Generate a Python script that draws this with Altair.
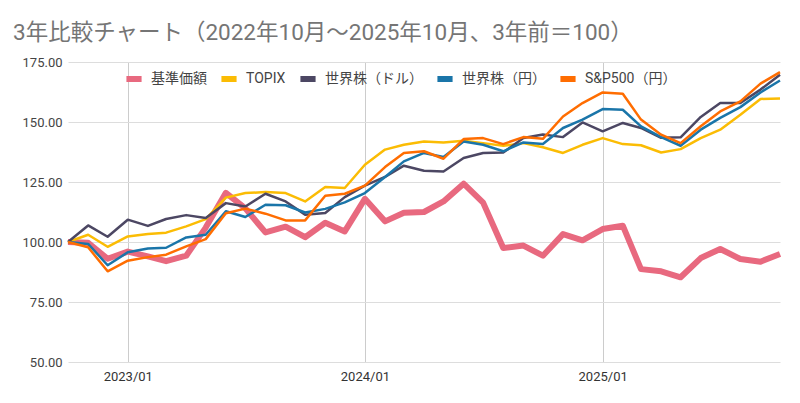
import altair as alt
import pandas as pd

months = pd.date_range("2022-10-01", "2025-10-01", freq="MS").strftime("%Y-%m-%d").tolist()

series_names = ["基準価額", "TOPIX", "世界株（ドル）", "世界株（円）", "S&P500（円）"]
series_colors = ["#E8697F", "#FBBC04", "#4C4763", "#1A75A9", "#FF6D01"]

kijun = [100, 99.7, 93, 96, 94, 92, 94.3, 106, 120.5, 114, 104, 106.4, 102,
         108, 104.4, 118, 108.6, 112.2, 112.5, 116.9, 124.3, 116.4, 97.5, 98.5,
         94.3, 103.3, 100.7, 105.4, 106.8, 88.7, 87.8, 85.3, 93.3, 97.1, 92.9,
         91.8, 95]
topix = [100, 103, 98, 102.3, 103.3, 103.9, 106.5, 109.5, 118.5, 120.4, 120.8,
         120.4, 116.9, 122.9, 122.5, 132.2, 138.5, 140.5, 141.9, 141.5, 142.2,
         141.2, 140.1, 141.2, 139.5, 137.1, 140.5, 143.3, 140.8, 140.3, 137.3,
         138.7, 143.3, 146.8, 153, 159.6, 159.8]
world_usd = [100, 106.9, 102.2, 109.3, 106.7, 109.6, 111.2, 110, 116.2, 114.8,
             120.1, 116.9, 111.4, 112.1, 118.7, 123.5, 127.1, 131.8, 129.7,
             129.4, 135, 137.1, 137.3, 143.3, 144.8, 143.7, 149.8, 146.1, 149.6,
             147.5, 143.4, 143.6, 152.1, 157.9, 157.9, 163.5, 169.7]
world_jpy = [100, 99.2, 90.3, 95.7, 97.3, 97.6, 101.9, 103, 112.8, 110.4, 115.5,
             115.3, 112.3, 113.8, 116.5, 120.4, 127.1, 133.6, 137.1, 135.4, 141.9,
             140.5, 137.8, 141.5, 140.8, 147.5, 151, 155.4, 155.1, 148.2, 143.7,
             140.1, 146.8, 151.7, 156.2, 162.3, 167.3]
sp500_jpy = [100, 97.8, 87.8, 92.2, 93.7, 94.7, 98.2, 101.2, 112, 113.9, 111.8,
             109, 109, 119.3, 120.1, 123.5, 131.2, 137.1, 137.8, 134.7, 142.9,
             143.3, 140.8, 143.7, 143, 152.3, 157.9, 162.3, 161.8, 151, 144.7,
             141.2, 148.2, 154.4, 158.6, 166, 170.8]

y_ticks = [50, 75, 100, 125, 150, 175]
x_tick_years = [2023, 2024, 2025]

all_values = [kijun, topix, world_usd, world_jpy, sp500_jpy]
rows = []
for name, vals in zip(series_names, all_values):
    for i, (m, v) in enumerate(zip(months, vals)):
        rows.append({"date": m, "series": name, "value": v, "order": series_names.index(name)})
df = pd.DataFrame(rows)

FONT = "Roboto, Arial, 'Liberation Sans', 'Noto Sans CJK JP', sans-serif"

color = alt.Color(
    "series:N",
    scale=alt.Scale(domain=series_names, range=series_colors),
    sort=series_names,
    legend=alt.Legend(
        title=None,
        orient="none",
        legendX=55,
        legendY=6,
        direction="horizontal",
        symbolType="stroke",
        symbolStrokeWidth=6,
        symbolSize=230,
        labelFontSize=14,
        labelFont=FONT,
        labelColor="#444444",
        labelOffset=6,
        columnPadding=2,
        padding=0,
    ),
)

x = alt.X(
    "date:T",
    scale=alt.Scale(type="utc", domain=[alt.DateTime(year=2022, month=10, date=1, utc=True),
                                         alt.DateTime(year=2025, month=10, date=1, utc=True)]),
    axis=alt.Axis(
        title=None,
        values=[alt.DateTime(year=yr, month=1, date=1, utc=True) for yr in x_tick_years],
        format="%Y/%m",
        grid=True,
        gridColor="#CCCCCC",
        gridWidth=1,
        domain=False,
        ticks=False,
        labelFontSize=13,
        labelColor="#333333",
        labelPadding=8,
        labelFont=FONT,
    ),
)
y = alt.Y(
    "value:Q",
    scale=alt.Scale(domain=[50, 175], nice=False, zero=False),
    axis=alt.Axis(
        title=None,
        values=y_ticks,
        format=".2f",
        grid=True,
        gridColor="#DDDDDD",
        gridWidth=1,
        domain=False,
        ticks=False,
        labelFontSize=13,
        labelColor="#444444",
        labelPadding=6,
        labelFont=FONT,
    ),
)

base = alt.Chart(df)
pink = base.transform_filter(alt.datum.series == "基準価額").mark_line(
    strokeWidth=6, strokeJoin="round"
).encode(x=x, y=y, color=color)
others = base.transform_filter(alt.datum.series != "基準価額").mark_line(
    strokeWidth=2.5, strokeJoin="round"
).encode(x=x, y=y, color=color, order=alt.Order("order:Q"))

chart = alt.layer(pink, others).properties(
    width=712,
    height=300,
    title=alt.TitleParams(
        text="3年比較チャート（2022年10月～2025年10月、3年前＝100）",
        anchor="start",
        frame="group",
        dx=-55,
        offset=12,
        fontSize=22.5,
        fontWeight="normal",
        color="#757575",
        font=FONT,
    ),
    autosize=alt.AutoSizeParams(type="none"),
    padding={"left": 60, "top": 54, "right": 12, "bottom": 33},
).configure_view(stroke=None)

chart.save("out.html", embed_options={"renderer": "svg", "actions": False})
